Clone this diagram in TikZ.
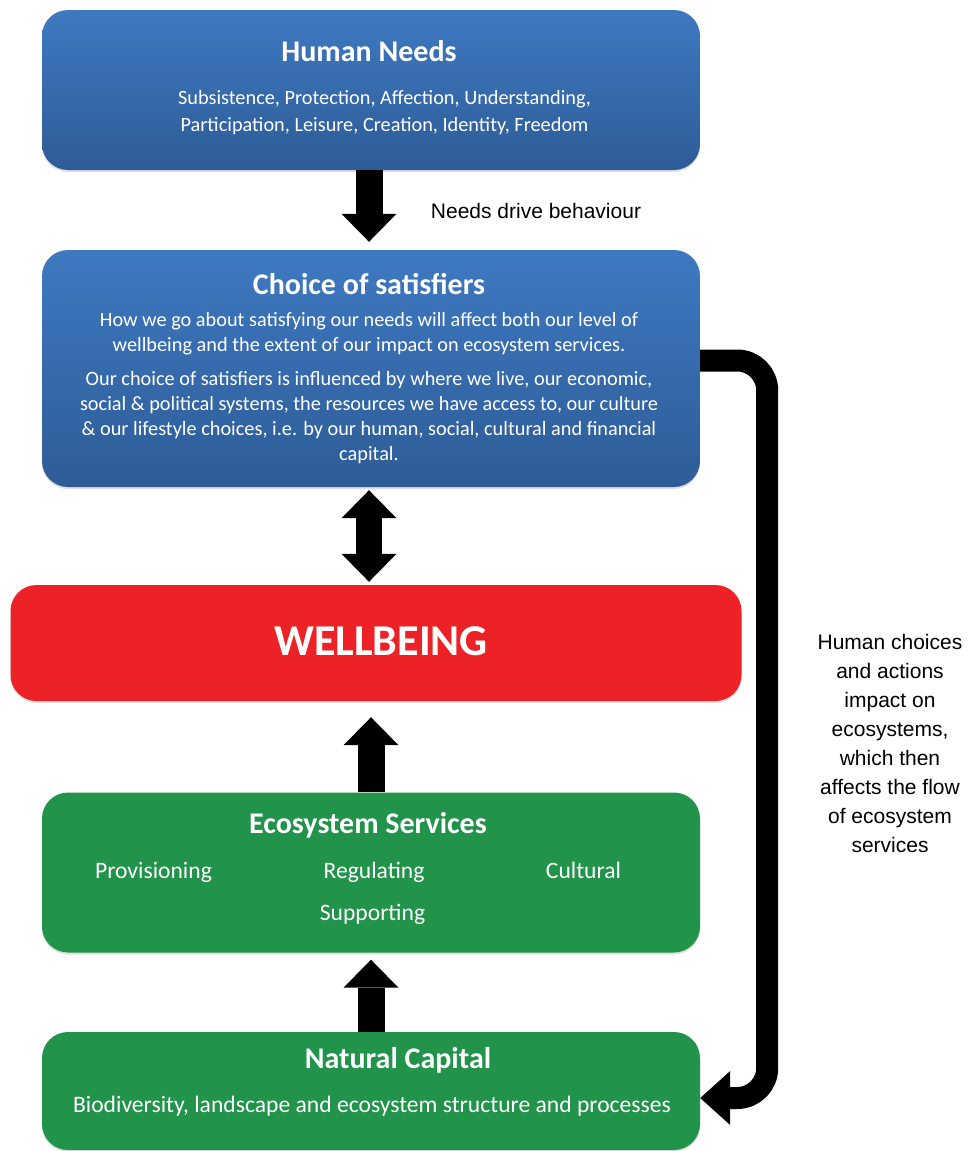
\documentclass[tikz,border=0pt]{standalone}
\usepackage{fontspec}
\setmainfont{Carlito}
\newfontfamily\arialf{Liberation Sans}
\usetikzlibrary{arrows.meta,calc,shadows}
\definecolor{bluetop}{HTML}{3E79C1}
\definecolor{bluebot}{HTML}{2E5C97}
\definecolor{wbred}{HTML}{EC2227}
\definecolor{ecogreen}{HTML}{21934A}
\begin{document}
\begin{tikzpicture}[x=1pt,y=-1pt,
  box/.style={rectangle, rounded corners=26pt, inner sep=0pt, draw=none},
  bluebox/.style={box, top color=bluetop, bottom color=bluebot},
  redbox/.style={box, fill=wbred},
  greenbox/.style={box, fill=ecogreen},
  shade/.style={drop shadow={shadow xshift=0pt, shadow yshift=-2pt, opacity=0.25, fill=gray}},
  title/.style={text=white, font=\fontsize{30}{36}\selectfont\bfseries, anchor=base, inner sep=0pt},
  body/.style={text=white, font=\fontsize{20.3}{27}\selectfont, anchor=base, inner sep=0pt, align=center},
  greenbody/.style={body, font=\fontsize{23.6}{28}\selectfont},
  note/.style={text=black, font=\arialf\fontsize{21}{29}\selectfont, anchor=base, inner sep=0pt, align=center},
  blockarrow/.style={draw=black, line width=27pt, -{Triangle[length=28pt,width=55pt,line width=0pt]}},
  dblarrow/.style={draw=black, line width=26pt, {Triangle[length=28pt,width=55pt,line width=0pt]}-{Triangle[length=28pt,width=55pt,line width=0pt]}},
  loopline/.style={draw=black, line width=22pt, rounded corners=30pt, -{Triangle[length=30pt,width=54pt,line width=0pt]}}
]
\useasboundingbox (0,0) rectangle (967,1151);

% boxes
\node[bluebox, shade, minimum width=658pt, minimum height=160pt] (hn) at (371,90) {};
\node[bluebox, shade, minimum width=658pt, minimum height=237pt] (cs) at (371,368.5) {};
\node[redbox, shade, minimum width=731pt, minimum height=116pt] (wb) at (376,643) {};
\node[greenbox, shade, minimum width=658pt, minimum height=160pt] (es) at (371,872.5) {};
\node[greenbox, shade, minimum width=658pt, minimum height=118pt] (nc) at (371,1091) {};

% texts (anchor=base is the baseline of the last line)
\node[title] (hnt) at (369,61) {Human Needs};
\node[body] (hnb) at (384.5,131) {Subsistence, Protection, Affection, Understanding,\\Participation, Leisure, Creation, Identity, Freedom};

\node[title] (cst) at (369,294) {Choice of satisfiers};
\node[body, font=\fontsize{20.3}{25}\selectfont] (csb1) at (369,351) {How we go about satisfying our needs will affect both our level of\\wellbeing and the extent of our impact on ecosystem services.};
\node[body, font=\fontsize{20.3}{24.7}\selectfont] (csb2) at (369,460) {Our choice of satisfiers is influenced by where we live, our economic,\\social \& political systems, the resources we have access to, our culture\\\& our lifestyle choices, i.e. by our human, social, cultural and financial\\capital.};

\node[title, font=\fontsize{44}{50}\selectfont\bfseries] (wbt) at (381,655) {WELLBEING};

\node[title] (est) at (368,833) {Ecosystem Services};
\node[greenbody] (es1) at (153.5,878) {Provisioning};
\node[greenbody] (es2) at (374,878) {Regulating};
\node[greenbody] (es3) at (583.5,878) {Cultural};
\node[greenbody] (es4) at (372.5,920) {Supporting};

\node[title] (nct) at (398,1068) {Natural Capital};
\node[greenbody] (ncb) at (372,1112) {Biodiversity, landscape and ecosystem structure and processes};

% notes
\node[note] (n1) at (536,218) {Needs drive behaviour};
\node[note] (n2) at (890,852) {Human choices\\and actions\\impact on\\ecosystems,\\which then\\affects the flow\\of ecosystem\\services};

% arrows
\draw[blockarrow, shorten >=8pt] ($(hn.south)+(-2,0)$) -- ($(cs.north)+(-2,0)$);
\draw[dblarrow, shorten <=3pt, shorten >=3pt] ($(cs.south)+(-2,0)$) -- ($(wb.north)+(-7,0)$);
\draw[blockarrow, shorten >=16pt] (es.north) -- ($(wb.south)+(-5,0)$);
\draw[blockarrow, shorten >=7pt] (nc.north) -- (es.south);
\draw[loopline] ($(cs.east)+(0,-8)$) -| ($(nc.east)+(67,7)$) -- ($(nc.east)+(0,7)$);
\end{tikzpicture}
\end{document}
